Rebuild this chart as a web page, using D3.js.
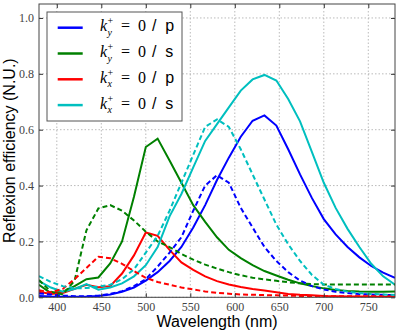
<!DOCTYPE html>
<html>
<head>
<meta charset="utf-8">
<script src="https://cdn.jsdelivr.net/npm/d3@7"></script>
<style>
  body { margin: 0; background: #fff; }
  svg { display: block; }
</style>
</head>
<body>
<script>
// wavelength samples (nm)
const wavelengths = [380, 393.3, 406.7, 420, 433.3, 446.7, 460, 473.3, 486.7, 500,
  513.3, 526.7, 540, 553.3, 566.7, 580, 593.3, 606.7, 620, 633.3,
  646.7, 660, 673.3, 686.7, 700, 713.3, 726.7, 740, 753.3, 766.7, 780];

// solid curves
const kyP = [0.005, 0.003, 0.002, 0.002, 0.003, 0.005, 0.01, 0.02, 0.035, 0.06,
  0.09, 0.13, 0.18, 0.25, 0.33, 0.42, 0.50, 0.575, 0.632, 0.651,
  0.615, 0.53, 0.44, 0.355, 0.28, 0.225, 0.18, 0.143, 0.112, 0.088, 0.07];
const kyS = [0.045, 0.015, 0.02, 0.04, 0.065, 0.071, 0.121, 0.2, 0.36, 0.538,
  0.568, 0.49, 0.41, 0.33, 0.27, 0.215, 0.17, 0.14, 0.115, 0.094,
  0.078, 0.063, 0.05, 0.04, 0.032, 0.026, 0.023, 0.021, 0.02, 0.02, 0.021];
const kxP = [0.02, 0.012, 0.015, 0.03, 0.045, 0.036, 0.04, 0.085, 0.15, 0.232,
  0.22, 0.17, 0.125, 0.098, 0.075, 0.058, 0.046, 0.037, 0.03, 0.024,
  0.018, 0.012, 0.009, 0.007, 0.005, 0.004, 0.003, 0.003, 0.002, 0.002, 0.002];
const kxS = [0.058, 0.035, 0.02, 0.03, 0.047, 0.027, 0.035, 0.05, 0.075, 0.115,
  0.18, 0.29, 0.37, 0.465, 0.56, 0.62, 0.68, 0.74, 0.78, 0.796,
  0.776, 0.71, 0.63, 0.52, 0.41, 0.32, 0.245, 0.18, 0.12, 0.075, 0.045];

// dashed curves
const kyPd = [0.014, 0.01, 0.006, 0.004, 0.004, 0.006, 0.012, 0.022, 0.04, 0.065,
  0.11, 0.16, 0.215, 0.31, 0.40, 0.437, 0.41, 0.32, 0.25, 0.18,
  0.13, 0.09, 0.06, 0.04, 0.028, 0.02, 0.015, 0.012, 0.01, 0.009, 0.008];
const kySd = [0.062, 0.02, 0.01, 0.06, 0.24, 0.318, 0.33, 0.31, 0.275, 0.235,
  0.2, 0.18, 0.155, 0.135, 0.117, 0.103, 0.09, 0.079, 0.07, 0.064,
  0.059, 0.054, 0.05, 0.047, 0.046, 0.046, 0.046, 0.046, 0.046, 0.046, 0.046];
const kxPd = [0.025, 0.018, 0.03, 0.065, 0.105, 0.145, 0.14, 0.12, 0.094, 0.07,
  0.055, 0.045, 0.035, 0.028, 0.021, 0.016, 0.013, 0.01, 0.009, 0.008,
  0.007, 0.006, 0.005, 0.005, 0.004, 0.004, 0.004, 0.004, 0.004, 0.004, 0.004];
const kxSd = [0.076, 0.055, 0.04, 0.032, 0.033, 0.038, 0.045, 0.065, 0.1, 0.16,
  0.22, 0.31, 0.41, 0.51, 0.61, 0.637, 0.61, 0.53, 0.44, 0.35,
  0.26, 0.19, 0.13, 0.08, 0.045, 0.03, 0.02, 0.015, 0.012, 0.01, 0.008];

const xTicks = [400, 450, 500, 550, 600, 650, 700, 750];
const yTicks = [0.0, 0.2, 0.4, 0.6, 0.8, 1.0];

const series = [
  { values: kyP, color: "#0000ff", dash: null },
  { values: kyS, color: "#008000", dash: null },
  { values: kxP, color: "#ff0000", dash: null },
  { values: kxS, color: "#00bfbf", dash: null },
  { values: kyPd, color: "#0000ff", dash: "5,3" },
  { values: kySd, color: "#008000", dash: "5,3" },
  { values: kxPd, color: "#ff0000", dash: "5,3" },
  { values: kxSd, color: "#00bfbf", dash: "5,3" }
];

const legendItems = [
  { sub: "y", pol: "p", color: "#0000ff" },
  { sub: "y", pol: "s", color: "#008000" },
  { sub: "x", pol: "p", color: "#ff0000" },
  { sub: "x", pol: "s", color: "#00bfbf" }
];

const width = 398, height = 333;
const margin = { top: 4, right: 3, bottom: 35.7, left: 39 };
const iw = width - margin.left - margin.right;
const ih = height - margin.top - margin.bottom;

const x = d3.scaleLinear().domain([380, 780]).range([0, iw]);
const y = d3.scaleLinear().domain([0, 1.05]).range([ih, 0]);

const svg = d3.create("svg")
  .attr("width", width)
  .attr("height", height);

const g = svg.append("g")
  .attr("transform", `translate(${margin.left},${margin.top})`);

// grid
g.append("g")
  .selectAll("line")
  .data(xTicks)
  .join("line")
  .attr("x1", d => x(d)).attr("x2", d => x(d))
  .attr("y1", 0).attr("y2", ih)
  .attr("stroke", "#aaa").attr("stroke-width", 0.8)
  .attr("stroke-dasharray", "1.5,2");
g.append("g")
  .selectAll("line")
  .data(yTicks)
  .join("line")
  .attr("x1", 0).attr("x2", iw)
  .attr("y1", d => y(d)).attr("y2", d => y(d))
  .attr("stroke", "#aaa").attr("stroke-width", 0.8)
  .attr("stroke-dasharray", "1.5,2");

// curves
const line = d3.line()
  .x((d, i) => x(wavelengths[i]))
  .y(d => y(d));

svg.append("clipPath").attr("id", "clip")
  .append("rect").attr("width", iw).attr("height", ih);

g.append("g")
  .attr("clip-path", "url(#clip)")
  .selectAll("path")
  .data(series)
  .join("path")
  .attr("d", d => line(d.values))
  .attr("fill", "none")
  .attr("stroke", d => d.color)
  .attr("stroke-width", 2)
  .attr("stroke-dasharray", d => d.dash);

// axes with inward ticks
const tickFont = "'Liberation Serif', 'Times New Roman', serif";
const styleAxis = sel => {
  sel.select(".domain").remove();
  sel.selectAll(".tick line").attr("stroke", "#333");
  sel.selectAll(".tick text")
    .attr("font-family", tickFont)
    .attr("font-size", 12)
    .attr("fill", "#444");
};

g.append("g")
  .attr("transform", `translate(0,${ih})`)
  .call(d3.axisBottom(x).tickValues(xTicks).tickSizeInner(-4).tickSizeOuter(0).tickPadding(5))
  .call(styleAxis);
g.append("g")
  .call(d3.axisLeft(y).tickValues(yTicks).tickFormat(d3.format(".1f")).tickSizeInner(-4).tickSizeOuter(0).tickPadding(5))
  .call(styleAxis);
g.append("g")
  .call(d3.axisTop(x).tickValues(xTicks).tickSizeInner(-4).tickSizeOuter(0).tickFormat(""))
  .call(styleAxis);
g.append("g")
  .attr("transform", `translate(${iw},0)`)
  .call(d3.axisRight(y).tickValues(yTicks).tickSizeInner(-4).tickSizeOuter(0).tickFormat(""))
  .call(styleAxis);

// frame
g.append("rect")
  .attr("width", iw).attr("height", ih)
  .attr("fill", "none").attr("stroke", "#444").attr("stroke-width", 1);

// axis labels
const labelFont = "'Liberation Sans', Arial, sans-serif";
svg.append("text")
  .attr("x", margin.left + iw / 2)
  .attr("y", 327)
  .attr("text-anchor", "middle")
  .attr("font-family", labelFont)
  .attr("font-size", 16)
  .text("Wavelength (nm)");
svg.append("text")
  .attr("transform", `translate(15,${margin.top + ih / 2}) rotate(-90)`)
  .attr("text-anchor", "middle")
  .attr("font-family", labelFont)
  .attr("font-size", 16)
  .text("Reflexion efficiency (N.U.)");

// legend
const lg = svg.append("g");
lg.append("rect")
  .attr("x", 47).attr("y", 12)
  .attr("width", 135).attr("height", 109)
  .attr("fill", "#fff").attr("stroke", "#555").attr("stroke-width", 1);

const rows = lg.selectAll("g.row")
  .data(legendItems)
  .join("g")
  .attr("class", "row")
  .attr("transform", (d, i) => `translate(0,${27.7 + i * 25.8})`);

rows.append("line")
  .attr("x1", 57.7).attr("x2", 82.7)
  .attr("stroke", d => d.color).attr("stroke-width", 2.5);

const mathFont = "'Liberation Serif', 'Times New Roman', serif";
const label = rows.append("text")
  .attr("x", 100).attr("y", 3.5)
  .attr("font-family", mathFont)
  .attr("font-size", 16)
  .attr("xml:space", "preserve");
label.append("tspan").attr("font-style", "italic").text("k");
label.append("tspan").attr("x", 107.5).attr("dy", -7).attr("font-size", 10).text("+");
label.append("tspan").attr("x", 107.5).attr("dy", 11.5).attr("font-size", 10)
  .attr("font-style", "italic").text(d => d.sub);
label.append("tspan").attr("x", 121).attr("dy", -4.5).text("=  0");
label.append("tspan").attr("x", 152).attr("font-family", labelFont)
  .text(d => "/  " + d.pol);

document.body.append(svg.node());
</script>
</body>
</html>
